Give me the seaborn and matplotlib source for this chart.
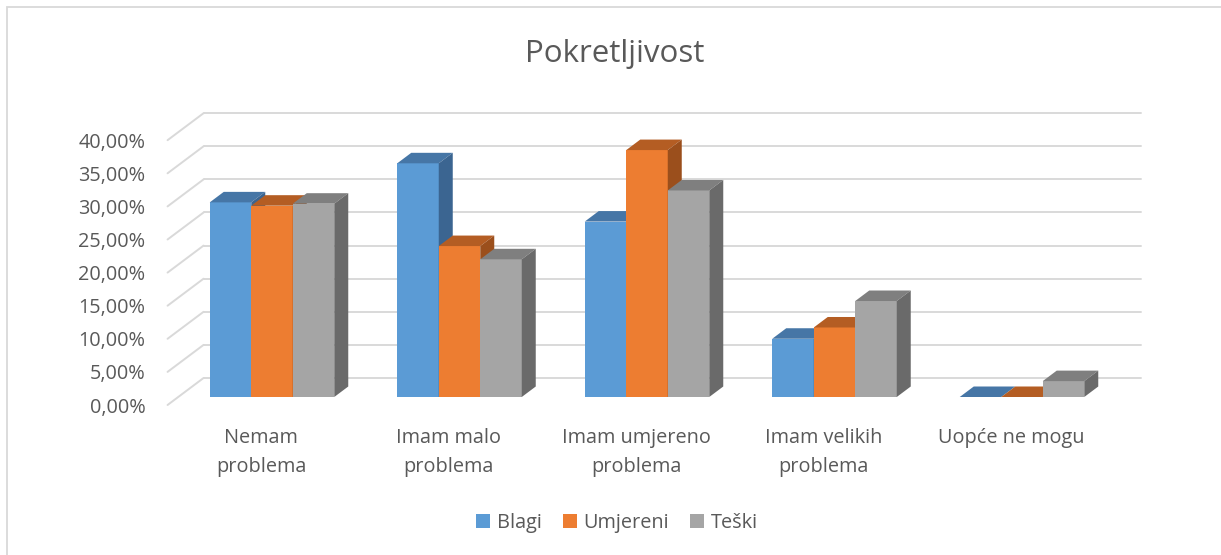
import pandas as pd
import matplotlib.pyplot as plt
import seaborn as sns
from matplotlib.patches import Polygon, Rectangle
from matplotlib.transforms import ScaledTranslation

# Chart data (values in percent)
categories = ['Nemam\nproblema', 'Imam malo\nproblema', 'Imam umjereno\nproblema',
              'Imam velikih\nproblema', 'Uopće ne mogu']
series = ['Blagi', 'Umjereni', 'Teški']
blagi = [29.4, 35.3, 26.5, 8.8, 0.0]
umjereni = [28.9, 22.8, 37.3, 10.5, 0.0]
teski = [29.2, 20.8, 31.2, 14.5, 2.4]
yticks = [0, 5, 10, 15, 20, 25, 30, 35, 40]
ytick_labels = [f'{v:.2f}%'.replace('.', ',') for v in yticks]

front_colors = ['#5B9BD5', '#ED7D31', '#A5A5A5']
top_colors = ['#4676A6', '#B45D23', '#7F7F7F']
side_colors = ['#3B6591', '#9B4F1C', '#6A6A6A']
text_color = '#595959'
grid_color = '#D9D9D9'

df = pd.DataFrame({
    'kategorija': categories * 3,
    'stupanj': [s for s in series for _ in categories],
    'vrijednost': blagi + umjereni + teski,
})

sns.set_style('white')
plt.rcParams['font.family'] = ['Open Sans', 'DejaVu Sans']

W, H, DPI = 1221, 555, 100
fig = plt.figure(figsize=(W / DPI, H / DPI), dpi=DPI)
px_pct = 6.62
ax = fig.add_axes([178.25 / W, 158 / H, 937.5 / W, 40 * px_pct / H])

sns.barplot(data=df, x='kategorija', y='vrijednost', hue='stupanj',
            palette=front_colors, saturation=1, width=0.664, linewidth=0,
            errorbar=None, ax=ax)
ax.set_xlim(-0.5, 4.5)
ax.set_ylim(0, 40)
sns.despine(ax=ax, left=True, bottom=True)
ax.set_xlabel('')
ax.set_ylabel('')


def px_off(dx, dy):
    return ax.transData + ScaledTranslation(dx / DPI, dy / DPI, fig.dpi_scale_trans)


def shift(x, y, dx, dy):
    p = ax.transData.transform((x, y))
    return ax.transData.inverted().transform((p[0] + dx, p[1] + dy))


# back wall and side wall gridlines
back_dx, back_dy = 25.3, 19
front_dx, front_dy = -10.7, -8
for v in yticks:
    ax.plot([-0.5, 4.5], [v, v], transform=px_off(back_dx, back_dy),
            color=grid_color, lw=1.4, clip_on=False, zorder=0)
    a = shift(-0.5, v, front_dx, front_dy)
    b = shift(-0.5, v, back_dx, back_dy)
    ax.plot([a[0], b[0]], [a[1], b[1]], color=grid_color, lw=1.4,
            clip_on=False, zorder=0)

# 3D faces on the bars
depth_dx, depth_dy = 14, 10.5
bars = []
for j, cont in enumerate(ax.containers):
    for bar in cont:
        bars.append((bar.get_x(), j, bar))
bars.sort(key=lambda t: t[0])
for i, (_, j, bar) in enumerate(bars):
    x0 = bar.get_x()
    x1 = x0 + bar.get_width()
    h = bar.get_height()
    bar.set_zorder(3 * i + 2)
    bar.set_clip_on(False)
    top = [(x0, h), (x1, h), shift(x1, h, depth_dx, depth_dy), shift(x0, h, depth_dx, depth_dy)]
    side = [(x1, 0), (x1, h), shift(x1, h, depth_dx, depth_dy), shift(x1, 0, depth_dx, depth_dy)]
    ax.add_patch(Polygon(top, closed=True, facecolor=top_colors[j], edgecolor='none',
                         zorder=3 * i + 3, clip_on=False))
    ax.add_patch(Polygon(side, closed=True, facecolor=side_colors[j], edgecolor='none',
                         zorder=3 * i + 4, clip_on=False))

# ticks
ax.set_yticks(yticks)
ax.set_yticklabels(ytick_labels)
ax.tick_params(axis='y', length=0, pad=23.5, labelsize=14.3, labelcolor=text_color)
ax.tick_params(axis='x', length=0, pad=22, labelsize=14.3, labelcolor=text_color)
for lab in ax.get_yticklabels():
    lab.set_transform(lab.get_transform() + ScaledTranslation(0, front_dy / DPI, fig.dpi_scale_trans))
for lab in ax.get_xticklabels():
    lab.set_transform(lab.get_transform() + ScaledTranslation(front_dx / DPI, 0, fig.dpi_scale_trans))
    lab.set_linespacing(1.65)

# legend
sns.move_legend(ax, 'center', bbox_to_anchor=(617 / W, 32 / H), bbox_transform=fig.transFigure,
                ncol=3, frameon=False, title=None, fontsize=14.3, labelcolor=text_color,
                handlelength=0.7, handleheight=0.7, handletextpad=0.35, columnspacing=1.05)

fig.text(615 / W, 1 - 54 / H, 'Pokretljivost', ha='center', va='center',
         fontsize=22.5, color=text_color)

fig.add_artist(Rectangle((6.5 / W, -0.1), 2, 1.1 - 7 / H, transform=fig.transFigure,
                         facecolor='none', edgecolor=grid_color, lw=1.3))

fig.savefig('out.png', dpi=DPI)
